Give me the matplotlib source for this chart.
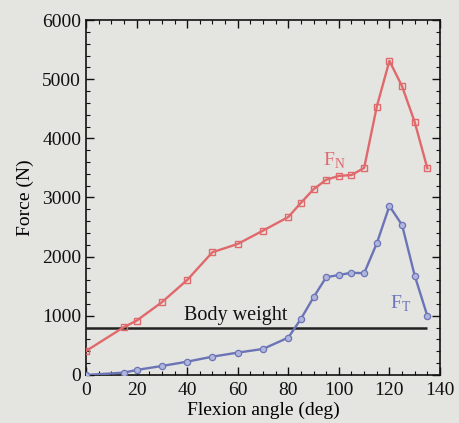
import matplotlib
matplotlib.use("Agg")
import matplotlib.pyplot as plt
from matplotlib.ticker import MultipleLocator

# Flexion angle (deg) and forces (N)
angle_n = [0, 15, 20, 30, 40, 50, 60, 70, 80, 85, 90, 95, 100, 105, 110, 115, 120, 125, 130, 135]
force_n = [405, 810, 918, 1230, 1605, 2075, 2215, 2440, 2670, 2910, 3140, 3300, 3365, 3380, 3500, 4535, 5310, 4880, 4275, 3495]

angle_t = [0, 15, 20, 30, 40, 50, 60, 70, 80, 85, 90, 95, 100, 105, 110, 115, 120, 125, 130, 135]
force_t = [0, 40, 85, 152, 225, 310, 378, 440, 632, 948, 1315, 1652, 1690, 1728, 1720, 2225, 2856, 2535, 1680, 998]

body_weight = 800
body_weight_span = [0, 135]

plt.rcParams['font.family'] = ['Liberation Serif', 'DejaVu Serif']
plt.rcParams['mathtext.fontset'] = 'custom'
plt.rcParams['mathtext.rm'] = 'Liberation Serif'

bg = '#e4e4e1'
red = '#e0696c'
blue = '#6b74b6'

fig = plt.figure(figsize=(4.6, 4.23), dpi=100, facecolor=bg)
ax = fig.add_axes([0.187, 0.1135, 0.7695, 0.8392], facecolor=bg)

ax.plot(angle_n, force_n, color=red, lw=1.7, marker='s', ms=5,
        mfc='none', mec=red, mew=1.0, zorder=3)
ax.plot(angle_t, force_t, color=blue, lw=1.7, marker='o', ms=4.5,
        mfc='#b0b5db', mec=blue, mew=0.9, zorder=3)
ax.hlines(body_weight, body_weight_span[0], body_weight_span[1],
          color='#222222', lw=1.8, zorder=2)

ax.text(59, 840, 'Body weight', fontsize=14.5, ha='center', va='bottom', color='#111111')
ax.text(98, 3620, r'F$_{\mathrm{N}}$', fontsize=14, ha='center', va='center', color=red)
ax.text(124.5, 1200, r'F$_{\mathrm{T}}$', fontsize=14, ha='center', va='center', color=blue)

ax.set_xlim(0, 140)
ax.set_ylim(0, 6000)
ax.xaxis.set_major_locator(MultipleLocator(20))
ax.xaxis.set_minor_locator(MultipleLocator(5))
ax.yaxis.set_major_locator(MultipleLocator(1000))
ax.yaxis.set_minor_locator(MultipleLocator(200))
ax.tick_params(which='both', direction='in', top=True, right=True,
               colors='#111111', labelsize=14)
ax.tick_params(axis='x', which='major', pad=5)
ax.tick_params(which='major', length=6, width=1.0)
ax.tick_params(which='minor', length=3, width=0.8)
for s in ax.spines.values():
    s.set_color('#111111')
    s.set_linewidth(1.2)

ax.set_xlabel('Flexion angle (deg)', fontsize=14, labelpad=2)
ax.set_ylabel('Force (N)', fontsize=14, labelpad=6)

fig.savefig('out.png', dpi=100, facecolor=bg)
